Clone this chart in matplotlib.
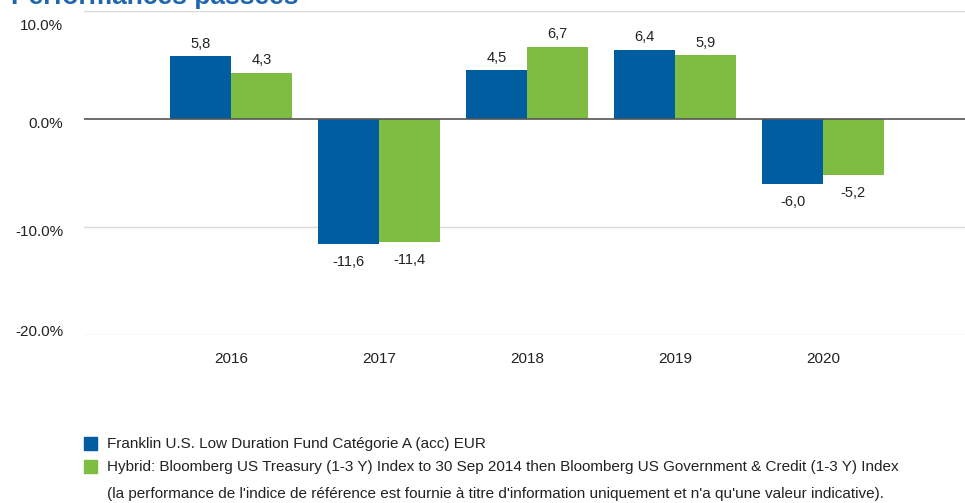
import matplotlib.pyplot as plt
import matplotlib.transforms as mtransforms
import numpy as np

years = ["2016", "2017", "2018", "2019", "2020"]
fund = [5.8, -11.6, 4.5, 6.4, -6.0]
bench = [4.3, -11.4, 6.7, 5.9, -5.2]
yticks = [10, 0, -10, -20]

fund_label = "Franklin U.S. Low Duration Fund Catégorie A (acc) EUR"
bench_label = ("Hybrid: Bloomberg US Treasury (1-3 Y) Index to 30 Sep 2014 then "
               "Bloomberg US Government & Credit (1-3 Y) Index")
note = ("(la performance de l'indice de référence est fournie à titre "
        "d'information uniquement et n'a qu'une valeur indicative).")

BLUE = "#005DA0"
GREEN = "#7FBC42"

plt.rcParams['font.family'] = ['Liberation Sans', 'DejaVu Sans']

fig = plt.figure(figsize=(9.65, 5.03), dpi=100)
ax = fig.add_axes([84 / 965, 1 - 335 / 503, 1 - 84 / 965, 324 / 503])

x = np.arange(len(years))
w = 0.41
b1 = ax.bar(x - w / 2, fund, w, color=BLUE, zorder=2)
b2 = ax.bar(x + w / 2, bench, w, color=GREEN, zorder=2)

for bars, vals in ((b1, fund), (b2, bench)):
    for r, v in zip(bars, vals):
        cx = r.get_x() + r.get_width() / 2
        txt = f"{v:.1f}".replace(".", ",")
        if v >= 0:
            ax.annotate(txt, (cx, v), xytext=(0, 4), textcoords="offset points",
                        ha="center", va="bottom", fontsize=10.5, color="#222222")
        else:
            ax.annotate(txt, (cx, v), xytext=(0, -8), textcoords="offset points",
                        ha="center", va="top", fontsize=10.5, color="#222222")

ax.set_ylim(-20, 10)
ax.set_xlim(-0.993, 4.96)
ax.set_yticks(yticks)
ax.set_yticklabels([f"{t:.1f}%" for t in yticks])
ax.set_xticks(x)
ax.set_xticklabels(years)
ax.tick_params(length=0, labelsize=11, colors="#222222")
ax.tick_params(axis="y", pad=15)
ax.tick_params(axis="x", pad=12)

# the y labels sit a little off their gridlines in the original
shifts = [-13, -4, -4, 5]
for lab, dy in zip(ax.get_yticklabels(), shifts):
    lab.set_transform(lab.get_transform() +
                      mtransforms.ScaledTranslation(0, dy / 100, fig.dpi_scale_trans))

for s in ax.spines.values():
    s.set_visible(False)
for t in yticks:
    if t != 0:
        ax.axhline(t, color="#d9d9d9", lw=1, zorder=0)
ax.axhline(0, color="#555555", lw=1.2, zorder=3)

fig.text(11 / 965, 1 - 4 / 503, "Performances passées", fontsize=19, fontweight="bold",
         color="#1F66B0", va="baseline", ha="left")

# legend
fig.patches.append(plt.Rectangle((84 / 965, 1 - 450 / 503), 13 / 965, 13 / 503,
                                 transform=fig.transFigure, color=BLUE))
fig.patches.append(plt.Rectangle((84 / 965, 1 - 473 / 503), 13 / 965, 13 / 503,
                                 transform=fig.transFigure, color=GREEN))
fig.text(107 / 965, 1 - 444 / 503, fund_label, fontsize=11, va="center", color="#222222")
fig.text(107 / 965, 1 - 467 / 503, bench_label, fontsize=11, va="center", color="#222222")
fig.text(107 / 965, 1 - 494 / 503, note, fontsize=11, va="center", color="#222222")

fig.savefig("out.png", dpi=100)
